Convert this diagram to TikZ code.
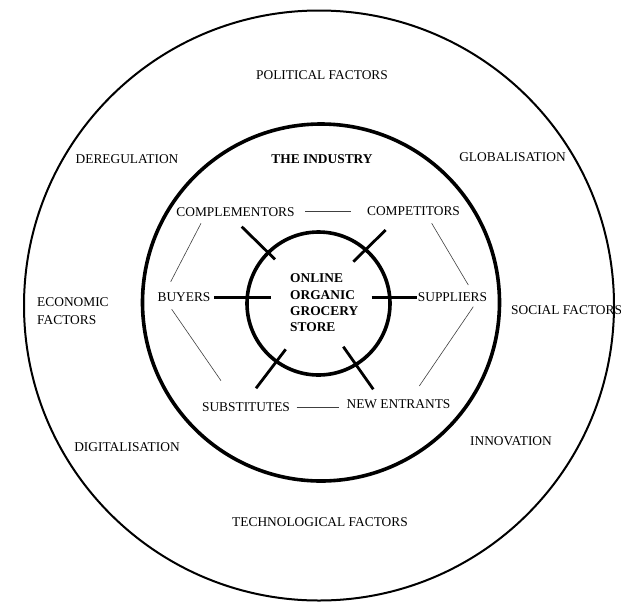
\documentclass[tikz,border=0pt]{standalone}
\usepackage{fontspec}
\setmainfont{Liberation Serif}
\begin{document}
\begin{tikzpicture}[x=1pt,y=-1pt,
  lbl/.style={font=\fontsize{13.4}{18}\selectfont, inner sep=0pt},
  blbl/.style={font=\fontsize{13.4}{16.3}\selectfont\bfseries, inner sep=0pt},
  ring/.style={circle, draw, inner sep=0pt},
  spoke/.style={line width=2.8pt},
  link/.style={line width=0.6pt, black!75}]
\useasboundingbox (0,0) rectangle (621,603);
\fill[white] (0,0) rectangle (621,603);
% rings
\node[ring, line width=2pt, minimum size=590pt] (outer) at (319,305.5) {};
\node[ring, line width=3.6pt, minimum size=357pt] (middle) at (321,302.5) {};
\node[ring, line width=3.6pt, minimum size=143pt] (inner) at (318.5,303.5) {};
% outer labels
\node[lbl] (pol) at (322,75) {POLITICAL FACTORS};
\node[lbl] (dereg) at (127,159) {DEREGULATION};
\node[lbl] (glob) at (512.5,157) {GLOBALISATION};
\node[lbl, anchor=west, align=left] (econ) at (37,311) {ECONOMIC\\FACTORS};
\node[lbl, anchor=west] (social) at (511,310) {SOCIAL FACTORS};
\node[lbl] (digit) at (127,447) {DIGITALISATION};
\node[lbl] (innov) at (511,441) {INNOVATION};
\node[lbl] (tech) at (320,522) {TECHNOLOGICAL FACTORS};
% industry labels
\node[blbl] (ind) at (322,159) {THE INDUSTRY};
\node[lbl] (compl) at (235.5,212) {COMPLEMENTORS};
\node[lbl] (comp) at (413.5,211) {COMPETITORS};
\node[lbl] (buy) at (184,297) {BUYERS};
\node[lbl] (supp) at (452.5,297) {SUPPLIERS};
\node[lbl] (subs) at (246,407) {SUBSTITUTES};
\node[lbl] (newe) at (398.5,404) {NEW ENTRANTS};
\node[blbl, anchor=west, align=left] (store) at (290,302.8) {ONLINE\\ORGANIC\\GROCERY\\STORE};
% spoke end points
\coordinate (s1a) at (241.7,226.7); \coordinate (s1b) at (275,259.3);
\coordinate (s2a) at (385.7,230);   \coordinate (s2b) at (353.3,261.7);
\coordinate (s3a) at (214,297.3);   \coordinate (s3b) at (270.7,297.3);
\coordinate (s4a) at (371.7,297.3); \coordinate (s4b) at (417.3,297.3);
\coordinate (s5a) at (285.7,349.3); \coordinate (s5b) at (256,388.3);
\coordinate (s6a) at (343.3,346.7); \coordinate (s6b) at (373.3,389.3);
\draw[spoke] (s1a) -- (s1b);
\draw[spoke] (s2a) -- (s2b);
\draw[spoke] (s3a) -- (s3b);
\draw[spoke] (s4a) -- (s4b);
\draw[spoke] (s5a) -- (s5b);
\draw[spoke] (s6a) -- (s6b);
% thin links
\coordinate (l1a) at (201,223.3);   \coordinate (l1b) at (170.7,281.7);
\coordinate (l2a) at (171.7,309.3); \coordinate (l2b) at (221,380.7);
\coordinate (l3a) at (431.7,223.3); \coordinate (l3b) at (468.3,285);
\coordinate (l4a) at (473.3,306.7); \coordinate (l4b) at (419.3,386);
\coordinate (l5a) at (305,211.7);   \coordinate (l5b) at (350.7,211.7);
\coordinate (l6a) at (296.7,407.7); \coordinate (l6b) at (339,407.7);
\draw[link] (l1a) -- (l1b);
\draw[link] (l2a) -- (l2b);
\draw[link] (l3a) -- (l3b);
\draw[link] (l4a) -- (l4b);
\draw[link] (l5a) -- (l5b);
\draw[link] (l6a) -- (l6b);
\end{tikzpicture}
\end{document}
